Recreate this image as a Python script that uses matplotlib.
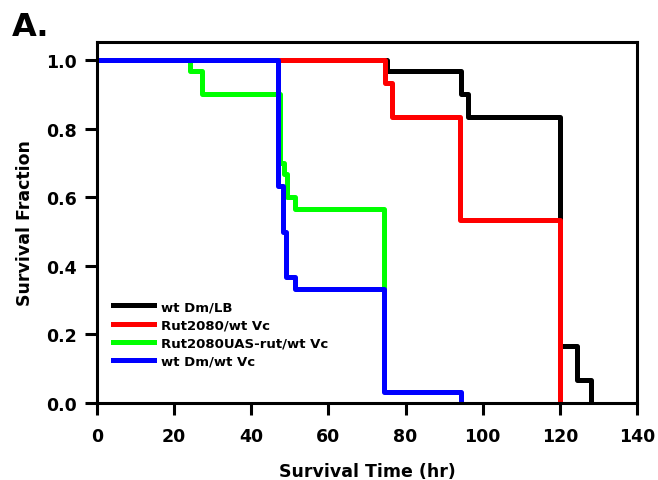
import matplotlib.pyplot as plt

plt.rcParams['font.family'] = ['DejaVu Sans']
plt.rcParams['font.weight'] = 'bold'

# Kaplan-Meier style survival data (time in hr, survival fraction)
labels = ["wt Dm/LB", "Rut2080/wt Vc", "Rut2080UAS-rut/wt Vc", "wt Dm/wt Vc"]
colors = ["#000000", "#ff0000", "#00ff00", "#0000ff"]

t_black = [0, 75.1, 94.5, 96.2, 120.0, 124.4, 128.2]
s_black = [1.0, 0.967, 0.900, 0.833, 0.167, 0.067, 0.0]

t_red = [0, 74.7, 76.4, 94.1, 120.0]
s_red = [1.0, 0.933, 0.833, 0.533, 0.0]

t_green = [0, 24.1, 27.1, 47.5, 48.4, 49.2, 51.4, 74.3]
s_green = [1.0, 0.967, 0.900, 0.700, 0.667, 0.600, 0.567, 0.333]

t_blue = [0, 47.0, 48.1, 49.1, 51.3, 74.3, 94.5]
s_blue = [1.0, 0.633, 0.500, 0.367, 0.333, 0.033, 0.0]

times = [t_black, t_red, t_green, t_blue]
surv = [s_black, s_red, s_green, s_blue]

fig = plt.figure(figsize=(6.58, 4.81), dpi=100)
ax = fig.add_axes([0.1474, 0.160, 0.8206, 0.7506])

for t, s, c, lab in zip(times, surv, colors, labels):
    ax.step(t, s, where='post', color=c, lw=3.6, label=lab)

ax.set_xlim(0, 140)
ax.set_ylim(0, 1.0525)
ax.set_xticks(range(0, 141, 20))
ax.set_yticks([0.0, 0.2, 0.4, 0.6, 0.8, 1.0])
ax.set_yticklabels(["0.0", "0.2", "0.4", "0.6", "0.8", "1.0"])

for sp in ax.spines.values():
    sp.set_linewidth(2.2)
ax.tick_params(direction='out', length=8.5, width=2.2, labelsize=12.5)
ax.tick_params(axis='x', pad=9)
ax.tick_params(axis='y', pad=6)

ax.set_xlabel("Survival Time (hr)", fontsize=12.5, fontweight='bold', labelpad=12)
ax.set_ylabel("Survival Fraction", fontsize=12.5, fontweight='bold', labelpad=9)

ax.legend(loc='upper left', bbox_to_anchor=(0.02, 0.30), frameon=False,
          fontsize=9.5, handlelength=3.1, handletextpad=0.55, labelspacing=0.4,
          borderaxespad=0)

fig.text(0.018, 0.925, "A.", fontsize=23, fontweight='bold')

fig.savefig("out.png", dpi=100)
